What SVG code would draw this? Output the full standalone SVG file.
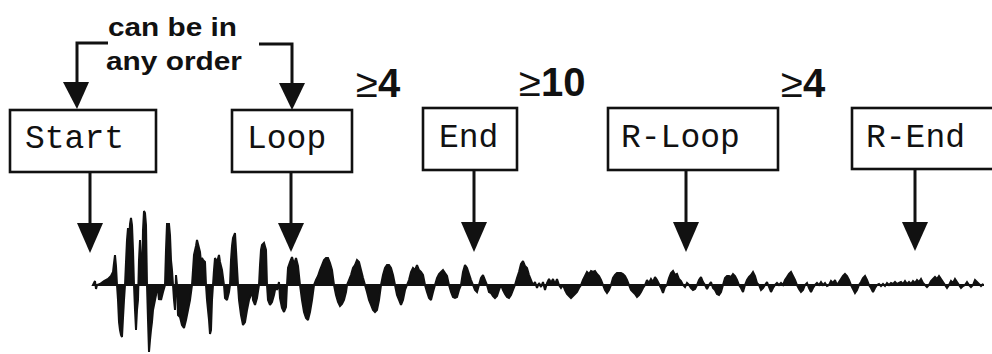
<svg xmlns="http://www.w3.org/2000/svg" width="992" height="354" viewBox="0 0 992 354">
<style>
.box{fill:#fff;stroke:#111;stroke-width:2.6}
.lbl{font-family:"Liberation Mono","Courier New",monospace;font-size:33px;fill:#111}
.line{fill:none;stroke:#111;stroke-width:3}
.head{fill:#111;stroke:none}
.note{font-family:"Liberation Sans",Arial,Helvetica,sans-serif;font-weight:bold;font-size:26px;fill:#111}
.cnt{font-family:"Liberation Sans",Arial,Helvetica,sans-serif;font-weight:bold;font-size:40px;fill:#111}
.ge{font-weight:normal}
.wave{fill:#111;stroke:#111;stroke-width:2;stroke-linejoin:miter;stroke-miterlimit:2}
</style>
<rect width="992" height="354" fill="#fff"/>

<g id="note">
<text class="note" x="108" y="36" textLength="129" lengthAdjust="spacingAndGlyphs">can be in</text>
<text class="note" x="106" y="70" textLength="136" lengthAdjust="spacingAndGlyphs">any order</text>
</g>

<g id="count-loop"><text class="cnt" x="356" y="97"><tspan class="ge">≥</tspan>4</text></g>
<g id="count-end"><text class="cnt" x="519" y="96" font-size="42"><tspan class="ge">≥</tspan>10</text></g>
<g id="count-rloop"><text class="cnt" x="781" y="97"><tspan class="ge">≥</tspan>4</text></g>

<g id="start"><rect class="box" x="10" y="110" width="146" height="62"/><text class="lbl" x="25" y="148">Start</text></g>
<g id="loop"><rect class="box" x="232" y="110" width="120" height="62"/><text class="lbl" x="247" y="148">Loop</text></g>
<g id="end"><rect class="box" x="423" y="108" width="94" height="62"/><text class="lbl" x="439" y="147">End</text></g>
<g id="r-loop"><rect class="box" x="608" y="108" width="170" height="62"/><text class="lbl" x="621" y="147">R-Loop</text></g>
<g id="r-end"><rect class="box" x="852" y="108" width="160" height="61"/><text class="lbl" x="866" y="147">R-End</text></g>

<g id="connectors">
<polyline class="line" points="108,43 77,43 77,84"/>
<polygon class="head" points="63,82 89,82 77,109"/>
<polyline class="line" points="259,44 292,44 292,85"/>
<polygon class="head" points="279,83 305,83 292,110"/>

<line class="line" x1="90" y1="172" x2="90" y2="225"/>
<polygon class="head" points="77,223 103,223 90,253"/>
<line class="line" x1="291" y1="172" x2="291" y2="225"/>
<polygon class="head" points="278,223 304,223 291,252"/>
<line class="line" x1="474" y1="170" x2="474" y2="224"/>
<polygon class="head" points="461,222 487,222 474,252"/>
<line class="line" x1="686" y1="170" x2="686" y2="224"/>
<polygon class="head" points="673,222 699,222 686,252"/>
<line class="line" x1="915" y1="169" x2="915" y2="224"/>
<polygon class="head" points="902,222 928,222 915,251"/>
</g>

<g id="waveform">
<path class="wave" d="M93,285 L95,281 96,289 97,285 100,284 104,281 108,279 111,276 113,272 114,263 115,255 116,266 117,285
L118,300 119,322 120,330 121,335 122,337 123,318 124,300 125,285
L126,262 127,240 128,228 129,242 130,224 131,218 132,225 133,250 134,285
L135,310 136,330 137,310 138,300 139,260 140,240 141,262 142,285
L143,230 144,211 145,213 146,225 147,285
L148,320 149,352 150,340 151,330 152,322 153,310 154,305 155,300 156,295 157,285
L158,290 159,300 160,296 161,300 163,292 165,285
L166,250 167,224 169,224 170,235 171,260 172,270 173,285
L174,300 175,310 176,275 177,285 178,315 180,317 182,325 184,328 186,320 188,310 190,300 192,285
L193,270 194,255 196,246 197,240 199,248 200,252 201,262 202,258 203,260 205,262 206,285
L207,300 209,320 210,334 211,330 212,300 213,285
L214,270 215,258 217,262 219,255 220,262 222,270 224,285
L225,298 227,300 229,292 230,285
L231,260 232,246 233,238 235,233 236,250 238,285
L239,300 241,315 243,325 245,322 247,310 249,300 251,295 252,285
L253,300 255,305 257,298 259,285
L260,265 261,250 262,245 264,243 266,250 267,285
L268,300 270,305 272,302 274,295 276,285
L277,290 279,282 280,298 282,308 284,312 286,307 287,285
L288,268 290,262 292,257 294,264 296,258 298,266 300,285
L302,300 304,312 306,318 308,320 310,312 312,300 314,285
L316,280 318,276 320,270 322,265 324,260 326,258 328,258 330,263 332,270 334,285
L336,295 338,302 340,306 342,304 344,300 346,292 347,285
L349,280 351,275 353,268 355,265 357,260 359,262 361,270 363,278 365,285
L367,292 369,300 371,305 373,310 375,312 377,310 379,300 381,285
L383,275 385,268 387,265 389,265 391,268 393,275 395,285
L397,295 399,300 401,305 403,300 405,290 407,285
L409,280 411,272 413,268 415,270 417,265 419,270 421,272 423,275 425,285
L427,292 429,298 431,300 433,292 435,285
L437,278 439,274 441,272 443,270 445,273 447,276 449,285
L451,292 453,297 455,298 457,297 459,290 461,285
L463,272 465,265 467,268 469,274 471,280 473,285
L475,290 477,292 479,285
L481,278 483,275 485,280 487,285 489,292 491,293 493,296 495,298 497,296 499,290 501,285
L503,290 505,294 507,297 509,298 511,295 513,290 515,285
L517,278 519,272 521,264 523,261 525,266 527,268 529,275 531,280 533,285
L535,282 537,288 539,283 541,287 543,282 545,290 547,283 549,279 551,283 553,279 555,284 557,279 559,285 561,288 563,285
L565,290 567,294 569,296 571,298 573,296 575,294 577,292 579,288 581,285
L583,280 585,276 587,272 589,274 591,271 593,272 595,271 597,274 599,276 601,280 603,285
L605,290 607,293 609,290 611,285
L613,278 615,275 617,273 619,273 621,273 623,274 625,276 627,280 629,285
L631,290 633,292 635,294 637,297 639,295 641,292 643,288 645,285
L647,280 649,283 651,279 653,282 655,277 657,280 659,284 661,288 663,293 665,287 667,285
L669,278 671,273 673,271 675,275 677,274 679,279 681,281 683,285
L685,287 687,283 689,285 691,288 693,290 695,289 697,285
L699,280 701,277 703,282 705,285 707,289 709,285
L711,282 713,288 715,290 717,294 719,295 721,292 723,285
L725,278 727,276 729,276 731,277 733,274 735,276 737,280 739,285
L741,288 743,292 745,285 747,280 749,277 751,275 753,272 755,276 757,283 759,285
L761,290 763,288 765,285 767,282 769,287 771,292 773,288 775,285
L777,283 779,285 781,283 783,285 785,280 787,277 789,274 791,272 793,276 795,280 797,285
L799,289 801,292 803,290 805,285 807,283 809,288 811,292 813,288 815,285
L817,283 819,285 821,282 823,285 825,283 827,286 829,285
L831,281 833,283 835,280 837,285
L839,282 841,279 843,276 845,274 847,276 849,280 851,285
L853,289 855,293 857,290 859,285 861,282 863,278 865,276 867,280 869,285
L871,288 873,292 875,288 877,285 879,284 881,286 883,284 885,286 887,283 889,285
L891,283 893,284 895,282 897,284 899,283 901,282 903,284 905,281 907,284 909,282 911,284 913,281 915,283 917,280 919,282 921,279 923,283 925,285
L927,287 929,285 931,281 933,279 935,277 937,279 939,276 941,279 943,282 945,285
L947,288 949,285 951,281 953,283 955,279 957,282 959,285 961,288 963,286 965,285 967,282 969,285
L971,287 973,285 975,280 977,282 979,284 981,286 983,284 983,285 Z"/>
</g>
</svg>
